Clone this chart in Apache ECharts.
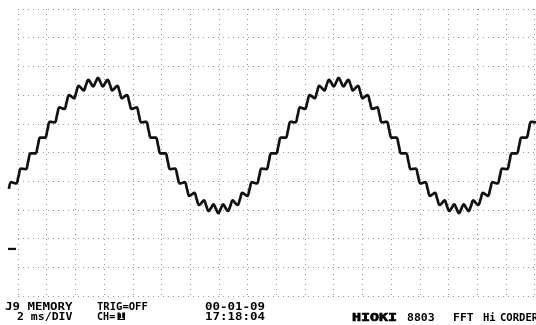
<!DOCTYPE html>
<html><head><meta charset="utf-8">
<script src="https://cdn.jsdelivr.net/npm/echarts@6/dist/echarts.min.js"></script>
<style>html,body{margin:0;padding:0;background:#fff}#c{width:536px;height:325px}</style>
</head><body><div id="c"></div>
<script>
// Recorder settings: 2 ms/DIV horizontally, values in divisions vertically
const X_MIN_MS = 0, X_MAX_MS = 36, MS_PER_DIV = 2;
const Y_MIN_DIV = -5, Y_MAX_DIV = 5, Y_STEP_DIV = 1;
// the printout is cropped: paper edge lies 1.2544 ms left of the first grid line
const PAPER_LEFT_MS = -1.2544;
const SAMPLE_T0_MS = -0.631;
const SAMPLE_DT_MS = 0.1677;
const ch1 = [
-1.27,-1.03,-1.06,-1.08,-0.82,-0.56,-0.57,-0.58,-0.31,-0.03,
-0.03,-0.03,0.24,0.52,0.52,0.52,0.79,1.07,1.06,1.05,
1.31,1.57,1.54,1.52,1.76,2.00,1.95,1.89,2.11,2.32,
2.25,2.16,2.35,2.53,2.42,2.30,2.45,2.60,2.45,2.30,
2.42,2.53,2.35,2.16,2.25,2.32,2.11,1.89,1.95,2.00,
1.76,1.52,1.54,1.57,1.31,1.05,1.06,1.07,0.79,0.52,
0.52,0.52,0.24,-0.03,-0.03,-0.03,-0.31,-0.58,-0.57,-0.56,
-0.82,-1.08,-1.06,-1.03,-1.27,-1.51,-1.46,-1.41,-1.62,-1.83,
-1.76,-1.67,-1.86,-2.04,-1.93,-1.81,-1.96,-2.11,-1.96,-1.81,
-1.93,-2.04,-1.86,-1.67,-1.76,-1.83,-1.62,-1.41,-1.46,-1.51,
-1.27,-1.03,-1.06,-1.08,-0.82,-0.56,-0.57,-0.58,-0.31,-0.03,
-0.03,-0.03,0.24,0.52,0.52,0.52,0.79,1.07,1.06,1.05,
1.31,1.57,1.54,1.52,1.76,2.00,1.95,1.89,2.11,2.32,
2.25,2.16,2.35,2.53,2.42,2.30,2.45,2.60,2.45,2.30,
2.42,2.53,2.35,2.16,2.25,2.32,2.11,1.89,1.95,2.00,
1.76,1.52,1.54,1.57,1.31,1.05,1.06,1.07,0.79,0.52,
0.52,0.52,0.24,-0.03,-0.03,-0.03,-0.31,-0.58,-0.57,-0.56,
-0.82,-1.08,-1.06,-1.03,-1.27,-1.51,-1.46,-1.41,-1.62,-1.83,
-1.76,-1.67,-1.86,-2.04,-1.93,-1.81,-1.96,-2.11,-1.96,-1.81,
-1.93,-2.04,-1.86,-1.67,-1.76,-1.83,-1.62,-1.41,-1.46,-1.51,
-1.27,-1.03,-1.06,-1.08,-0.82,-0.56,-0.57,-0.58,-0.31,-0.03,
-0.03,-0.03,0.24,0.52,0.52,0.52,0.79,1.07,1.06,1.05
];
// channel zero-position marker at the left edge
const markerT = [-0.70, -0.14];
const markerLevel = -3.36;
// printed header texts
const txtMode = 'J9 MEMORY';
const txtTrig = 'TRIG=OFF';
const txtDate = '00-01-09';
const txtRange = '2 ms/DIV';
const txtCh = 'CH=';
const txtChNo = '1';
const txtTime = '17:18:04';
const txtMaker = 'HIOKI';
const txtModel = '8803';
const txtFft = 'FFT';
const txtHi = 'Hi';
const txtCorder = 'CORDER';

const traceData = ch1.map((v, i) => [SAMPLE_T0_MS + i * SAMPLE_DT_MS, v]);
const markerData = markerT.map(t => [t, markerLevel]);

const chart = echarts.init(document.getElementById('c'), null, {renderer: 'canvas'});
const FONT = '"DejaVu Sans Mono", monospace';
function label(text, x, y, opts) {
  opts = opts || {};
  return {
    type: 'text', x: x, y: y, scaleX: opts.sx || 1.3, scaleY: 1, z: 10,
    style: {
      text: text, x: 0, y: 0,
      font: (opts.weight || 'bold') + ' ' + (opts.size || 9.6) + 'px ' + FONT,
      fill: opts.fill || '#000',
      stroke: opts.stroke || null, lineWidth: opts.lw || 0,
      textVerticalAlign: 'top', verticalAlign: 'top'
    }
  };
}
const splitStyle = {show: true, lineStyle: {color: '#999', width: 1, type: [1, 4]}};
const hidden = {axisLine: {show: false}, axisTick: {show: false}, axisLabel: {show: false}, splitLine: {show: false}};
chart.setOption({
  animation: false,
  backgroundColor: '#fff',
  grid: [
    {left: 18, right: 1.4, top: 9, bottom: 29, containLabel: false},
    {left: 0, right: 1.4, top: 9, bottom: 29, containLabel: false}
  ],
  xAxis: [
    {type: 'value', gridIndex: 0, min: X_MIN_MS, max: X_MAX_MS, interval: MS_PER_DIV,
     axisLine: {show: false}, axisTick: {show: false}, axisLabel: {show: false}, splitLine: splitStyle},
    Object.assign({type: 'value', gridIndex: 1, min: PAPER_LEFT_MS, max: X_MAX_MS}, hidden)
  ],
  yAxis: [
    {type: 'value', gridIndex: 0, min: Y_MIN_DIV, max: Y_MAX_DIV, interval: Y_STEP_DIV,
     axisLine: {show: false}, axisTick: {show: false}, axisLabel: {show: false}, splitLine: splitStyle},
    Object.assign({type: 'value', gridIndex: 1, min: Y_MIN_DIV, max: Y_MAX_DIV}, hidden)
  ],
  series: [
    {type: 'line', xAxisIndex: 1, yAxisIndex: 1, data: traceData, showSymbol: false, symbol: 'none',
     smooth: 0.45, lineStyle: {color: '#111', width: 2.7}, z: 5},
    {type: 'line', xAxisIndex: 1, yAxisIndex: 1, data: markerData, showSymbol: false, symbol: 'none',
     lineStyle: {color: '#111', width: 2.2}, z: 5}
  ],
  graphic: [
    label(txtMode, 5, 302),
    label(txtTrig, 97, 302, {sx: 1.1}),
    label(txtDate, 205, 302),
    label(txtRange, 17, 312.5, {sx: 1.2}),
    label(txtCh, 97, 312.5, {sx: 1.05}),
    {type: 'rect', shape: {x: 117.5, y: 312.5, width: 7.5, height: 7.5}, style: {fill: '#000'}, z: 10},
    label(txtChNo, 119, 312.5, {sx: 1, size: 8, fill: '#fff'}),
    label(txtTime, 205, 312.5),
    label(txtMaker, 352, 313, {size: 10, stroke: '#000', lw: 0.6, sx: 1.5}),
    label(txtModel, 407, 313.5, {sx: 1.2}),
    label(txtFft, 453, 313.5, {sx: 1.2}),
    label(txtHi, 483, 313.5, {sx: 1.1}),
    label(txtCorder, 500, 313.5, {sx: 1.1})
  ]
});
</script>
</body></html>
